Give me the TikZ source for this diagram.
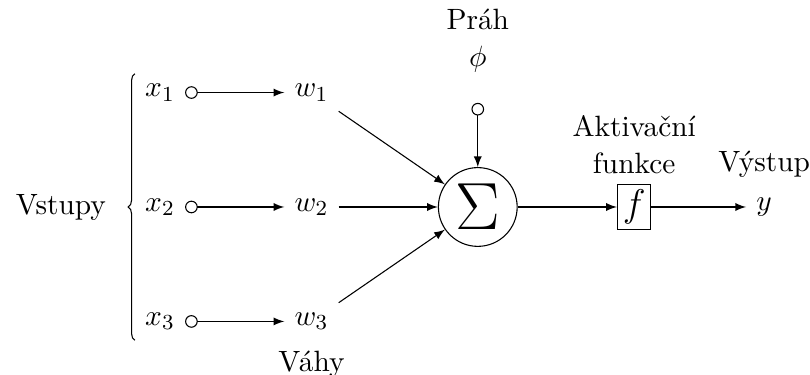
\documentclass[tikz,border=0pt,11pt]{standalone}
\usepackage{fontspec}
\usetikzlibrary{positioning, arrows, decorations.pathreplacing}

\begin{document}
\begin{tikzpicture}[node distance=13mm,
  sumnode/.style={draw, circle, inner sep=2pt, font=\Huge},
  actbox/.style={draw, inner sep=2pt, font=\Large},
  feed/.style={o-latex},
  flow/.style={-latex}]
  \useasboundingbox (-2.097,-2.189) rectangle (8.519,2.713);

  % inputs and weights
  \node (x1) at (0,1.5) {$x_1$};
  \node (x2) at (0,0) {$x_2$};
  \node (x3) at (0,-1.5) {$x_3$};
  \node[right=of x1] (w1) {$w_1$};
  \node[right=of x2] (w2) {$w_2$};
  \node[right=of x3, label=below:Váhy] (w3) {$w_3$};

  % neuron
  \node[sumnode, right=of w2] (sigma) {$\displaystyle\Sigma$};
  \node[actbox, right=of sigma, label={[align=center]above:Aktivační\\funkce}] (act) {$f$};
  \node[right=12.4mm of act, label=above:Výstup] (out) {$y$};
  \node[label={[align=center]above:Práh\\$\phi$}] (bias) at (sigma|-w1) {};

  \draw[feed] (x1) -- (w1);
  \draw[feed] (x2) -- (w2);
  \draw[feed] (x3) -- (w3);
  \draw[flow] (w1) -- (sigma);
  \draw[flow] (w2) -- (sigma);
  \draw[flow] (w3) -- (sigma);
  \draw[feed] (bias) -- (sigma);
  \draw[flow] (sigma) -- (act);
  \draw[flow] (act) -- (out);

  \draw[decorate, decoration={brace, mirror}] (x1.north west) -- node[left=7pt] (inputs) {Vstupy} (x3.south west);
\end{tikzpicture}
\end{document}
